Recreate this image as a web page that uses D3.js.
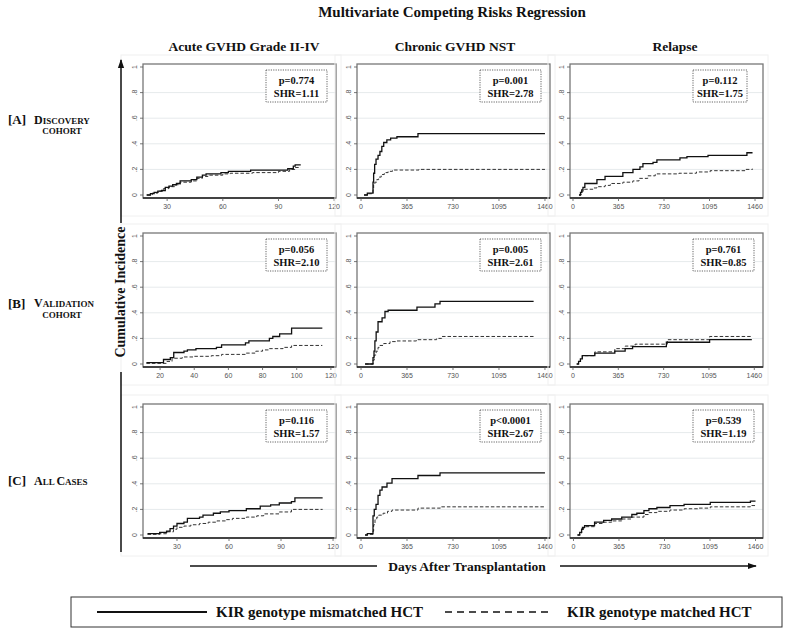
<!DOCTYPE html>
<html>
<head>
<meta charset="utf-8">
<script src="https://cdnjs.cloudflare.com/ajax/libs/d3/7.8.5/d3.min.js"></script>
<style>
  body { margin: 0; background: #fff; }
  svg { display: block; }
</style>
</head>
<body>
<svg id="chart" width="788" height="632"></svg>
<script>
// column / row headings
const outcomes = ["Acute GVHD Grade II-IV", "Chronic GVHD NST", "Relapse"];
const cohorts = [
    { tag: "[A]", line1: ["D", "ISCOVERY"], line2: "COHORT" },
    { tag: "[B]", line1: ["V", "ALIDATION"], line2: "COHORT" },
    { tag: "[C]", line1: ["A", "LL ", "C", "ASES"], line2: null }
];

const yTicks = [0, 0.2, 0.4, 0.6, 0.8, 1];
const acuteTicks30 = [30, 60, 90, 120];
const acuteTicks20 = [20, 40, 60, 80, 100, 120];
const dayTicks = [0, 365, 730, 1095, 1460];

// p values and SHR, row by row
const pValues = ["p=0.774", "p=0.001", "p=0.112",
                 "p=0.056", "p=0.005", "p=0.761",
                 "p=0.116", "p<0.0001", "p=0.539"];
const shrValues = ["SHR=1.11", "SHR=2.78", "SHR=1.75",
                   "SHR=2.10", "SHR=2.61", "SHR=0.85",
                   "SHR=1.57", "SHR=2.67", "SHR=1.19"];

// cumulative incidence step curves [day, value]
// mis = KIR genotype mismatched, mat = KIR genotype matched
const acuteA_mis = [[19,0],[21,0.01],[23,0.02],[25,0.03],[27,0.035],[29,0.06],[31,0.07],[33,0.08],[35,0.09],[37,0.11],[43,0.12],[46,0.14],[49,0.155],[51,0.165],[59,0.175],[63,0.185],[75,0.195],[95,0.205],[98,0.225],[99,0.235],[102,0.235]];
const acuteA_mat = [[19,0],[22,0.015],[25,0.03],[28,0.05],[31,0.065],[34,0.08],[37,0.1],[43,0.11],[46,0.13],[49,0.145],[52,0.155],[60,0.165],[64,0.17],[76,0.175],[90,0.185],[96,0.2],[99,0.215],[102,0.215]];
const chronicA_mis = [[24,0],[50,0.015],[95,0.1],[100,0.17],[108,0.24],[119,0.28],[135,0.31],[150,0.34],[165,0.38],[180,0.41],[205,0.43],[235,0.445],[285,0.455],[452,0.48],[1460,0.48]];
const chronicA_mat = [[24,0],[50,0.01],[95,0.04],[100,0.08],[110,0.1],[125,0.12],[140,0.14],[160,0.16],[185,0.175],[215,0.185],[250,0.195],[460,0.2],[1460,0.2]];
const relapseA_mis = [[48,0],[60,0.02],[70,0.04],[80,0.06],[95,0.09],[192,0.12],[257,0.145],[400,0.175],[481,0.2],[537,0.22],[561,0.245],[642,0.255],[673,0.275],[858,0.29],[914,0.3],[1083,0.31],[1395,0.33],[1440,0.33]];
const relapseA_mat = [[48,0],[65,0.025],[80,0.045],[160,0.055],[192,0.065],[257,0.075],[300,0.09],[400,0.1],[480,0.11],[530,0.13],[600,0.15],[660,0.165],[850,0.17],[990,0.18],[1100,0.19],[1380,0.2],[1440,0.205]];

const acuteB_mis = [[12,0.01],[22,0.035],[26,0.05],[28,0.09],[34,0.1],[36,0.11],[41,0.12],[53,0.13],[56,0.15],[70,0.165],[72,0.18],[84,0.2],[86,0.215],[90,0.235],[97,0.28],[115,0.28]];
const acuteB_mat = [[12,0.005],[24,0.02],[27,0.045],[33,0.055],[40,0.06],[50,0.065],[56,0.075],[70,0.085],[76,0.1],[80,0.11],[84,0.12],[92,0.13],[97,0.145],[115,0.145]];
const chronicB_mis = [[32,0],[95,0.05],[103,0.1],[110,0.18],[120,0.25],[135,0.33],[167,0.36],[190,0.41],[215,0.42],[444,0.445],[587,0.47],[627,0.49],[1370,0.49]];
const chronicB_mat = [[32,0],[95,0.03],[105,0.07],[120,0.1],[135,0.13],[150,0.145],[180,0.16],[230,0.175],[285,0.18],[440,0.19],[600,0.2],[640,0.215],[1370,0.215]];
const relapseB_mis = [[30,0],[45,0.02],[60,0.04],[75,0.065],[176,0.085],[337,0.1],[420,0.12],[480,0.135],[752,0.17],[1100,0.19],[1440,0.19]];
const relapseB_mat = [[30,0],[45,0.02],[60,0.04],[75,0.065],[176,0.095],[337,0.12],[420,0.14],[500,0.155],[760,0.19],[1100,0.215],[1440,0.215]];

const acuteC_mis = [[13,0.01],[20,0.02],[24,0.03],[26,0.05],[28,0.07],[30,0.09],[34,0.1],[36,0.13],[43,0.14],[45,0.155],[51,0.17],[55,0.18],[60,0.19],[70,0.205],[78,0.225],[84,0.235],[89,0.25],[96,0.26],[98,0.29],[114,0.29]];
const acuteC_mat = [[13,0.005],[20,0.01],[24,0.025],[28,0.045],[30,0.06],[34,0.07],[38,0.08],[43,0.09],[48,0.1],[53,0.11],[58,0.12],[62,0.13],[70,0.14],[76,0.15],[80,0.165],[89,0.18],[96,0.2],[114,0.2]];
const chronicC_mis = [[32,0],[50,0.01],[95,0.15],[105,0.2],[119,0.24],[135,0.31],[150,0.35],[167,0.375],[206,0.405],[246,0.44],[452,0.465],[627,0.485],[1460,0.485]];
const chronicC_mat = [[32,0],[50,0.005],[95,0.03],[100,0.08],[111,0.12],[125,0.14],[140,0.155],[175,0.17],[210,0.185],[246,0.195],[452,0.21],[630,0.22],[1460,0.22]];
const relapseC_mis = [[32,0],[50,0.02],[65,0.045],[72,0.06],[89,0.073],[169,0.1],[242,0.115],[306,0.125],[387,0.14],[468,0.16],[508,0.17],[565,0.19],[605,0.205],[669,0.215],[774,0.23],[887,0.24],[1097,0.255],[1419,0.265],[1460,0.265]];
const relapseC_mat = [[32,0],[50,0.015],[65,0.04],[80,0.055],[89,0.065],[169,0.09],[242,0.1],[306,0.11],[387,0.125],[468,0.14],[565,0.16],[605,0.175],[669,0.185],[774,0.195],[887,0.205],[1000,0.21],[1097,0.22],[1419,0.23],[1460,0.23]];

const legendLabels = ["KIR genotype mismatched HCT", "KIR genotype matched HCT"];

// ---- layout ----
const svg = d3.select("#chart");
const serif = "'Liberation Serif', 'Times New Roman', serif";
const sans = "'Liberation Sans', Arial, sans-serif";

const colLeft = [143, 357, 570];
const rowTop = [64, 233, 404];
const panelW = 193, panelH = 134;

const panels = [
    { r: 0, c: 0, ticks: acuteTicks30, dom: [17, 121], mis: acuteA_mis, mat: acuteA_mat },
    { r: 0, c: 1, ticks: dayTicks, dom: [-32, 1500], mis: chronicA_mis, mat: chronicA_mat },
    { r: 0, c: 2, ticks: dayTicks, dom: [-24, 1524], mis: relapseA_mis, mat: relapseA_mat, boxW: 54 },
    { r: 1, c: 0, ticks: acuteTicks20, dom: [10, 123], mis: acuteB_mis, mat: acuteB_mat },
    { r: 1, c: 1, ticks: dayTicks, dom: [-32, 1500], mis: chronicB_mis, mat: chronicB_mat },
    { r: 1, c: 2, ticks: dayTicks, dom: [-24, 1530], mis: relapseB_mis, mat: relapseB_mat },
    { r: 2, c: 0, ticks: acuteTicks30, dom: [10.4, 121.7], mis: acuteC_mis, mat: acuteC_mat },
    { r: 2, c: 1, ticks: dayTicks, dom: [-32, 1500], mis: chronicC_mis, mat: chronicC_mat },
    { r: 2, c: 2, ticks: dayTicks, dom: [-28, 1520], mis: relapseC_mis, mat: relapseC_mat }
];

const yFmt = v => v === 0 ? "0" : v === 1 ? "1" : d3.format(".1f")(v).replace(/^0/, "");

panels.forEach((p, i) => {
    const left = colLeft[p.c], top = rowTop[p.r];
    const x = d3.scaleLinear().domain(p.dom).range([left, left + panelW]);
    const y = d3.scaleLinear().domain([0, 1]).range([top + 131, top + 3]);
    const g = svg.append("g");

    // faint graph region
    g.append("rect")
        .attr("x", left - 22).attr("y", top - 9)
        .attr("width", panelW + 27).attr("height", panelH + 27)
        .attr("fill", "none").attr("stroke", "#f0f0f0");

    g.selectAll("line.grid")
        .data(yTicks.slice(1, 5))
        .enter().append("line")
        .attr("class", "grid")
        .attr("x1", left).attr("x2", left + panelW)
        .attr("y1", d => y(d)).attr("y2", d => y(d))
        .attr("stroke", "#e6eaec").attr("stroke-width", 1);

    g.append("rect")
        .attr("x", left).attr("y", top)
        .attr("width", panelW).attr("height", panelH)
        .attr("fill", "none").attr("stroke", "#777").attr("stroke-width", 1.3);

    g.append("line")
        .attr("x1", left).attr("x2", left + panelW)
        .attr("y1", top + panelH).attr("y2", top + panelH)
        .attr("stroke", "#222").attr("stroke-width", 1.6);

    // y ticks
    g.selectAll("line.yt")
        .data(yTicks).enter().append("line")
        .attr("class", "yt")
        .attr("x1", left - 3).attr("x2", left)
        .attr("y1", d => y(d)).attr("y2", d => y(d))
        .attr("stroke", "#555").attr("stroke-width", 0.8);
    g.selectAll("text.yl")
        .data(yTicks).enter().append("text")
        .attr("class", "yl")
        .attr("transform", d => `translate(${left - 6},${y(d)}) rotate(-90)`)
        .attr("text-anchor", "middle")
        .attr("font-family", sans).attr("font-size", 7)
        .attr("fill", "#555")
        .text(yFmt);

    // x ticks
    g.selectAll("line.xt")
        .data(p.ticks).enter().append("line")
        .attr("class", "xt")
        .attr("x1", d => x(d)).attr("x2", d => x(d))
        .attr("y1", top + panelH).attr("y2", top + panelH + 3)
        .attr("stroke", "#555").attr("stroke-width", 0.8);
    g.selectAll("text.xl")
        .data(p.ticks).enter().append("text")
        .attr("class", "xl")
        .attr("x", d => x(d)).attr("y", top + panelH + 11)
        .attr("text-anchor", "middle")
        .attr("font-family", sans).attr("font-size", 7)
        .attr("fill", "#555")
        .text(d => d);

    const line = d3.line()
        .x(d => x(d[0])).y(d => y(d[1]))
        .curve(d3.curveStepAfter);

    g.append("path")
        .attr("d", line(p.mat))
        .attr("fill", "none").attr("stroke", "#333")
        .attr("stroke-width", 1).attr("stroke-dasharray", "3.5,2");
    g.append("path")
        .attr("d", line(p.mis))
        .attr("fill", "none").attr("stroke", "#111")
        .attr("stroke-width", 1.3);

    // stat box
    const bw = p.boxW || 61;
    const bx = left + panelW - 70, by = top + 6;
    g.append("rect")
        .attr("x", bx).attr("y", by).attr("width", bw).attr("height", 32)
        .attr("fill", "#fff").attr("stroke", "#555")
        .attr("stroke-width", 0.9).attr("stroke-dasharray", "1.2,1.2");
    [pValues[i], shrValues[i]].forEach((t, k) => {
        g.append("text")
            .attr("x", bx + bw / 2).attr("y", by + 14 + k * 13)
            .attr("text-anchor", "middle")
            .attr("font-family", serif).attr("font-weight", "bold")
            .attr("font-size", 10.5).attr("fill", "#111")
            .text(t);
    });
});

// title and column headers
svg.append("text")
    .attr("x", 452).attr("y", 17)
    .attr("text-anchor", "middle")
    .attr("font-family", serif).attr("font-weight", "bold")
    .attr("font-size", 15).attr("fill", "#111")
    .text("Multivariate Competing Risks Regression");

const headerX = [244, 455, 675];
outcomes.forEach((t, i) => {
    svg.append("text")
        .attr("x", headerX[i]).attr("y", 51)
        .attr("text-anchor", "middle")
        .attr("font-family", serif).attr("font-weight", "bold")
        .attr("font-size", 13.5).attr("fill", "#111")
        .text(t);
});

// row labels (small caps drawn by hand)
const tagY = [124, 308, 485];
const line2Y = [134, 318, null];
cohorts.forEach((c, i) => {
    svg.append("text")
        .attr("x", 8).attr("y", tagY[i])
        .attr("font-family", serif).attr("font-weight", "bold")
        .attr("font-size", 13).attr("fill", "#111")
        .text(c.tag);
    const t = svg.append("text")
        .attr("x", 34).attr("y", tagY[i] - (i === 1 ? 1 : 0))
        .attr("font-family", serif).attr("font-weight", "bold")
        .attr("fill", "#111");
    c.line1.forEach((s, k) => {
        t.append("tspan").attr("font-size", k % 2 === 0 ? 12 : 9).text(s);
    });
    if (c.line2) {
        svg.append("text")
            .attr("x", 62).attr("y", line2Y[i])
            .attr("text-anchor", "middle")
            .attr("font-family", serif).attr("font-weight", "bold")
            .attr("font-size", 9).attr("fill", "#111")
            .text(c.line2);
    }
});

// arrow heads
const defs = svg.append("defs");
defs.append("marker")
    .attr("id", "arrow")
    .attr("viewBox", "0 0 10 10")
    .attr("refX", 9).attr("refY", 5)
    .attr("markerWidth", 6).attr("markerHeight", 6)
    .attr("orient", "auto")
    .append("path").attr("d", "M0,1.5 L10,5 L0,8.5 Z").attr("fill", "#111");

// vertical axis title with arrow
svg.append("line")
    .attr("x1", 121).attr("x2", 121).attr("y1", 552).attr("y2", 372)
    .attr("stroke", "#111").attr("stroke-width", 1.5);
svg.append("line")
    .attr("x1", 121).attr("x2", 121).attr("y1", 223).attr("y2", 60)
    .attr("stroke", "#111").attr("stroke-width", 1.5)
    .attr("marker-end", "url(#arrow)");
svg.append("text")
    .attr("transform", "translate(125,292) rotate(-90)")
    .attr("text-anchor", "middle")
    .attr("font-family", serif).attr("font-weight", "bold")
    .attr("font-size", 14).attr("fill", "#111")
    .text("Cumulative Incidence");

// horizontal axis title with arrow
svg.append("line")
    .attr("x1", 190).attr("x2", 377).attr("y1", 566).attr("y2", 566)
    .attr("stroke", "#111").attr("stroke-width", 1.5);
svg.append("line")
    .attr("x1", 560).attr("x2", 756).attr("y1", 566).attr("y2", 566)
    .attr("stroke", "#111").attr("stroke-width", 1.5)
    .attr("marker-end", "url(#arrow)");
svg.append("text")
    .attr("x", 467).attr("y", 571)
    .attr("text-anchor", "middle")
    .attr("font-family", serif).attr("font-weight", "bold")
    .attr("font-size", 13.5).attr("fill", "#111")
    .text("Days After Transplantation");

// legend
svg.append("rect")
    .attr("x", 71).attr("y", 597).attr("width", 711).attr("height", 30)
    .attr("fill", "#fff").attr("stroke", "#333").attr("stroke-width", 1);
svg.append("line")
    .attr("x1", 97).attr("x2", 207).attr("y1", 612).attr("y2", 612)
    .attr("stroke", "#111").attr("stroke-width", 2);
svg.append("line")
    .attr("x1", 445).attr("x2", 550).attr("y1", 612).attr("y2", 612)
    .attr("stroke", "#111").attr("stroke-width", 1.6)
    .attr("stroke-dasharray", "7,5");
[[216, legendLabels[0]], [567, legendLabels[1]]].forEach(([lx, t]) => {
    svg.append("text")
        .attr("x", lx).attr("y", 617)
        .attr("font-family", serif).attr("font-weight", "bold")
        .attr("font-size", 15).attr("fill", "#111")
        .text(t);
});
</script>
</body>
</html>
